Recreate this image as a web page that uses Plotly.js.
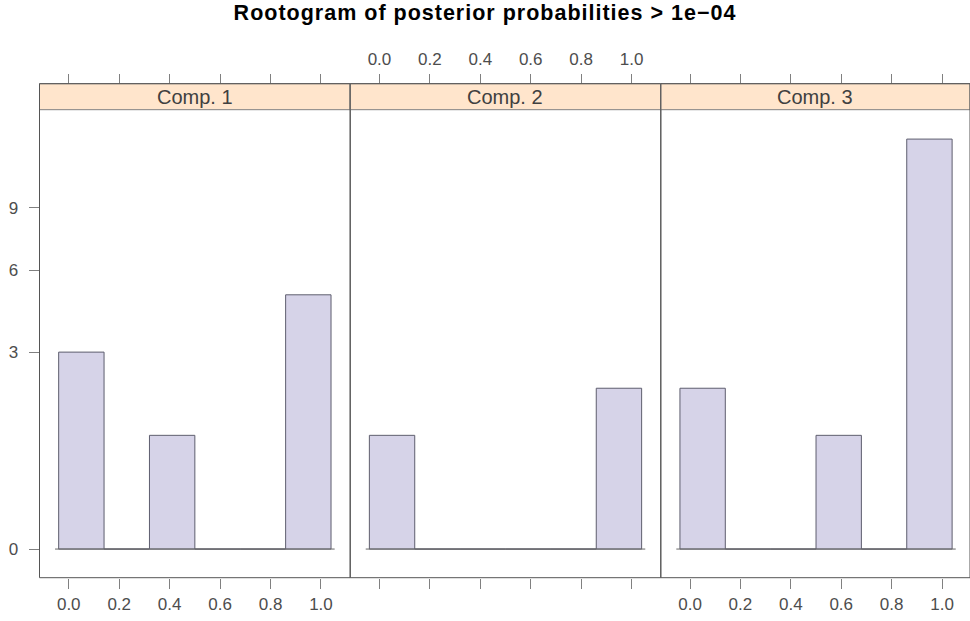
<!DOCTYPE html>
<html>
<head>
<meta charset="utf-8">
<script src="https://cdn.plot.ly/plotly-3.0.1.min.js"></script>
<style>html,body{margin:0;padding:0;background:#fff}#chart{width:970px;height:621px}.gtitle{letter-spacing:1px}</style>
</head>
<body>
<div id="chart"></div>
<script>
// ---- data ----
const components = ["Comp. 1", "Comp. 2", "Comp. 3"];
const binCenters = [0.05, 0.23, 0.41, 0.59, 0.77, 0.95];
const binWidth = 0.18;
const counts1 = [3, 0, 1, 0, 0, 5];
const counts2 = [1, 0, 0, 0, 0, 2];
const counts3 = [2, 0, 0, 1, 0, 13];
const xTickVals = [0, 0.2, 0.4, 0.6, 0.8, 1.0];
const xTickText = ["0.0", "0.2", "0.4", "0.6", "0.8", "1.0"];
const yTickCounts = [0, 3, 6, 9];
const titleText = "Rootogram of posterior probabilities > 1e\u221204";

// ---- geometry (pixels) ----
const W = 970, H = 621;
const panelX = [[39.5, 350.2], [350.2, 660.8], [660.8, 970]];
const plotTop = 109.7, plotBottom = 577.7, stripTop = 83.7;
const py = p => 1 - p / H;
const px = p => p / W;
const xRanges = [[-0.116, 1.116], [-0.116, 1.116], [-0.116, 1.111]];
const yRange = [-0.252, 3.864];

const allCounts = [counts1, counts2, counts3];
const font = "Liberation Sans, Arial, Helvetica, sans-serif";
const tickFont = {family: font, size: 17, color: "#4d4d4d"};

const traces = [];
const axisNames = ["x", "x2", "x3"];
allCounts.forEach((c, i) => {
  traces.push({
    type: "bar", x: binCenters, y: c.map(v => Math.sqrt(v)), width: binWidth,
    xaxis: axisNames[i], yaxis: "y",
    marker: {color: "#d6d3e8", line: {color: "#5e5e6e", width: 1}},
    hoverinfo: "skip", showlegend: false
  });
  const ext = binWidth * 0.58;
  traces.push({
    type: "scatter", mode: "lines",
    x: [binCenters[0] - ext, binCenters[binCenters.length - 1] + ext], y: [0, 0],
    xaxis: axisNames[i], yaxis: "y",
    line: {color: "#666", width: 1}, hoverinfo: "skip", showlegend: false
  });
});
// dummy traces so top axes are drawn
["x4", "x5", "x6"].forEach(a => traces.push({type: "scatter", mode: "markers", x: [0.5], y: [null], xaxis: a, yaxis: "y", hoverinfo: "skip", showlegend: false}));

function xaxis(i, showLabels) {
  return {
    domain: [px(panelX[i][0]), px(panelX[i][1])], range: xRanges[i], anchor: "y",
    showgrid: false, zeroline: false, showline: false,
    ticks: "outside", ticklen: 10, tickwidth: 1, tickcolor: "#808080",
    tickvals: xTickVals, ticktext: xTickText, showticklabels: showLabels,
    tickfont: tickFont, ticklabelstandoff: 1, fixedrange: true
  };
}
function topAxis(i, showLabels, over) {
  return Object.assign(xaxis(i, showLabels), {
    anchor: "free", position: py(stripTop), side: "top", overlaying: over, ticklabelstandoff: 2
  });
}

const shapes = [];
const annotations = [];
components.forEach((name, i) => {
  shapes.push({type: "rect", xref: "paper", yref: "paper",
    x0: px(panelX[i][0]), x1: px(panelX[i][1]), y0: py(plotTop), y1: py(stripTop),
    fillcolor: "#ffe5cc", line: {color: "#808080", width: 1}});
  shapes.push({type: "rect", xref: "paper", yref: "paper",
    x0: px(panelX[i][0]), x1: px(panelX[i][1]), y0: py(plotBottom), y1: py(stripTop),
    line: {color: "#555", width: 1}});
  annotations.push({xref: "paper", yref: "paper",
    x: (px(panelX[i][0]) + px(panelX[i][1])) / 2, y: (py(plotTop) + py(stripTop)) / 2,
    text: name, showarrow: false, xanchor: "center", yanchor: "middle",
    font: {family: font, size: 20, color: "#404040"}});
});

const layout = {
  width: W, height: H, margin: {l: 0, r: 0, t: 0, b: 0},
  paper_bgcolor: "#fff", plot_bgcolor: "rgba(0,0,0,0)",
  title: {text: "<b>" + titleText + "</b>", font: {family: font, size: 21.5, color: "#000"},
    x: 0.5, xanchor: "center", y: py(12), yanchor: "middle", xref: "paper", yref: "paper"},
  showlegend: false, barmode: "overlay",
  xaxis: xaxis(0, true), xaxis2: xaxis(1, false), xaxis3: xaxis(2, true),
  xaxis4: topAxis(0, false, "x"), xaxis5: topAxis(1, true, "x2"), xaxis6: topAxis(2, false, "x3"),
  yaxis: {
    domain: [py(plotBottom), py(plotTop)], range: yRange, anchor: "x",
    showgrid: false, zeroline: false, showline: false,
    ticks: "outside", ticklen: 10, tickwidth: 1, tickcolor: "#808080",
    tickvals: yTickCounts.map(v => Math.sqrt(v)), ticktext: yTickCounts.map(String),
    tickfont: tickFont, ticklabelstandoff: 7, fixedrange: true
  },
  shapes: shapes, annotations: annotations
};

Plotly.newPlot("chart", traces, layout, {staticPlot: true, displayModeBar: false});
</script>
</body>
</html>
